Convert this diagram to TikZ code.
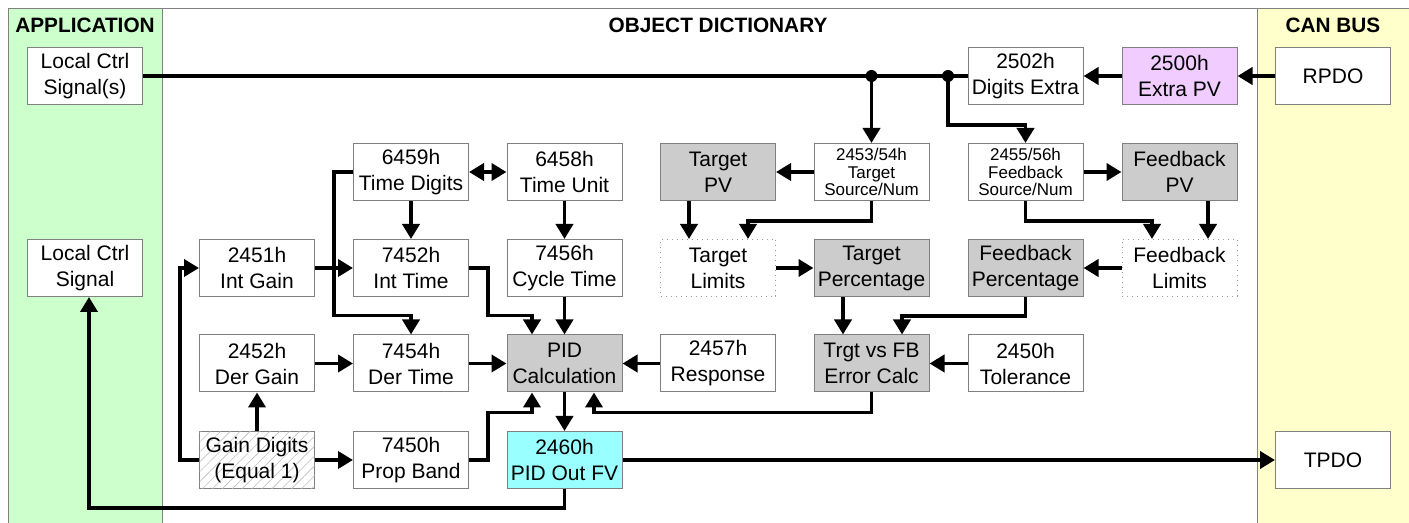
\documentclass[tikz,border=0pt]{standalone}
\usepackage{fontspec}
\setmainfont{Liberation Sans}
\usetikzlibrary{arrows.meta,patterns.meta}
\definecolor{appgreen}{RGB}{204,255,204}
\definecolor{canyellow}{RGB}{255,255,204}
\definecolor{fillgray}{RGB}{204,204,204}
\definecolor{boxgray}{RGB}{128,128,128}
\definecolor{violetfill}{RGB}{240,204,255}
\definecolor{cyanfill}{RGB}{153,255,255}
\begin{document}
\begin{tikzpicture}[x=0.5pt,y=-0.5pt,
  box/.style={draw=boxgray,line width=0.5pt,fill=white,minimum width=57.5pt,minimum height=28.5pt,inner sep=0pt,align=center,font=\fontsize{10.5}{13}\selectfont},
  small/.style={font=\fontsize{8.5}{8.8}\selectfont},
  greybox/.style={fill=fillgray},
  limbox/.style={draw=gray!80,dotted,line width=0.5pt},
  hatchbox/.style={postaction={pattern={Lines[angle=45,distance=3.5pt,line width=0.3pt]},pattern color=black!25}},
  arr/.style={line width=1.9pt,-{Triangle[length=7.5pt,width=8.5pt]}},
  dblarr/.style={line width=1.9pt,{Triangle[length=7.5pt,width=8.5pt]}-{Triangle[length=7.5pt,width=8.5pt]}},
  wire/.style={line width=1.9pt},
  header/.style={font=\fontsize{10.4}{12}\selectfont\bfseries}
]
\useasboundingbox (0,0) rectangle (1409,523);
% panels
\fill[white] (0,0) rectangle (1409,523);
\draw[boxgray,line width=0.5pt,fill=appgreen] (8,9) rectangle (162,530);
\draw[boxgray,line width=0.5pt,fill=canyellow] (1257,9) rectangle (1415,530);
\draw[boxgray,line width=0.5pt] (8,9) -- (1415,9);
\node[header] (happ) at (85,25) {APPLICATION};
\node[header] (hod) at (718,25) {OBJECT DICTIONARY};
\node[header] (hcan) at (1333,25) {CAN BUS};

% row 1
\node[box] (lcs) at (85,76) {Local Ctrl\\Signal(s)};
\node[box] (de) at (1025.5,76) {2502h\\Digits Extra};
\node[box,fill=violetfill] (epv) at (1179.5,76) {2500h\\Extra PV};
\node[box] (rpdo) at (1333,76) {RPDO};
% row 2
\node[box] (td) at (411,172) {6459h\\Time Digits};
\node[box] (tu) at (564.5,172) {6458h\\Time Unit};
\node[box,greybox] (tpv) at (718,172) {Target\\PV};
\node[box,small] (tsn) at (871.5,172) {2453/54h\\Target\\Source/Num};
\node[box,small] (fsn) at (1025.5,172) {2455/56h\\Feedback\\Source/Num};
\node[box,greybox] (fpv) at (1179.5,172) {Feedback\\PV};
% row 3
\node[box] (lc) at (85,268) {Local Ctrl\\Signal};
\node[box] (ig) at (257,268) {2451h\\Int Gain};
\node[box] (it) at (411,268) {7452h\\Int Time};
\node[box] (ct) at (564.5,268) {7456h\\Cycle Time};
\node[box,limbox] (tl) at (718,268) {Target\\Limits};
\node[box,greybox] (tp) at (871.5,268) {Target\\Percentage};
\node[box,greybox] (fp) at (1025.5,268) {Feedback\\Percentage};
\node[box,limbox] (fl) at (1179.5,268) {Feedback\\Limits};
% row 4
\node[box] (dg) at (257,363.5) {2452h\\Der Gain};
\node[box] (dt) at (411,363.5) {7454h\\Der Time};
\node[box,greybox] (pid) at (564.5,363.5) {PID\\Calculation};
\node[box] (resp) at (718,363.5) {2457h\\Response};
\node[box,greybox] (err) at (871.5,363.5) {Trgt vs FB\\Error Calc};
\node[box] (tol) at (1025.5,363.5) {2450h\\Tolerance};
% row 5
\node[box,hatchbox] (gd) at (257,460) {Gain Digits\\(Equal 1)};
\node[box] (pb) at (411,460) {7450h\\Prop Band};
\node[box,fill=cyanfill] (out) at (564.5,460) {2460h\\PID Out FV};
\node[box] (tpdo) at (1333,460) {TPDO};

% bus
\draw[wire] (lcs.east) -- (de.west);
\coordinate (d1) at (tsn.north |- de.west);
\coordinate (d2) at (948,76);
\fill (d1) circle[radius=3pt];
\fill (d2) circle[radius=3pt];
\draw[arr] (d1) -- (tsn.north);
\draw[arr] (d2) -- (948,125) -| (fsn.north);
\draw[arr] (rpdo.west) -- (epv.east);
\draw[arr] (epv.west) -- (de.east);

% target / feedback chain
\draw[arr] (tsn.west) -- (tpv.east);
\draw[arr] (fsn.east) -- (fpv.west);
\draw[arr] ([xshift=-14.5pt]tpv.south) -- ([xshift=-14.5pt]tl.north);
\draw[arr] (tsn.south) -- ++(0,20) -| ([xshift=15pt]tl.north);
\draw[arr] (fsn.south) -- ++(0,20) -| ([xshift=-13.75pt]fl.north);
\draw[arr] ([xshift=14.25pt]fpv.south) -- ([xshift=14.25pt]fl.north);
\draw[arr] (tl.east) -- (tp.west);
\draw[arr] (fl.west) -- (fp.east);
\draw[arr] ([xshift=-14.25pt]tp.south) -- ([xshift=-14.25pt]err.north);
\draw[arr] (fp.south) -- ++(0,19) -| ([xshift=15.25pt]err.north);
\draw[arr] (tol.west) -- (err.east);
\draw[arr] (err.south) -- ++(0,20) -| ([xshift=14.75pt]pid.south);

% PID inputs / outputs
\draw[arr] (resp.west) -- (pid.east);
\draw[arr] (pid.south) -- (out.north);
\draw[arr] (out.east) -- (tpdo.west);
\draw[arr] (out.south) -- ++(0,19) -| ([xshift=2pt]lc.south);
\draw[arr] (pb.east) -- ++(19,0) |- ([xshift=-16.25pt,yshift=-10pt]pid.south) -- ([xshift=-16.25pt]pid.south);
\draw[arr] (it.east) -- ++(19,0) |- ([xshift=-16.25pt,yshift=9.5pt]pid.north) -- ([xshift=-16.25pt]pid.north);
\draw[arr] (ct.south) -- (pid.north);
\draw[arr] (dt.east) -- (pid.west);

% gains and times
\draw[arr] (dg.east) -- (dt.west);
\draw[arr] (ig.east) -- (it.west);
\draw[arr] (gd.north) -- (dg.south);
\draw[arr] (gd.east) -- (pb.west);
\draw[arr] (gd.west) -- ++(-19,0) |- (ig.west);
\draw[arr] (td.west) -- ++(-19,0) |- ([yshift=9.5pt]dt.north) -- (dt.north);
\draw[dblarr] (td.east) -- (tu.west);
\draw[arr] (td.south) -- (it.north);
\draw[arr] (tu.south) -- (ct.north);
\end{tikzpicture}
\end{document}
